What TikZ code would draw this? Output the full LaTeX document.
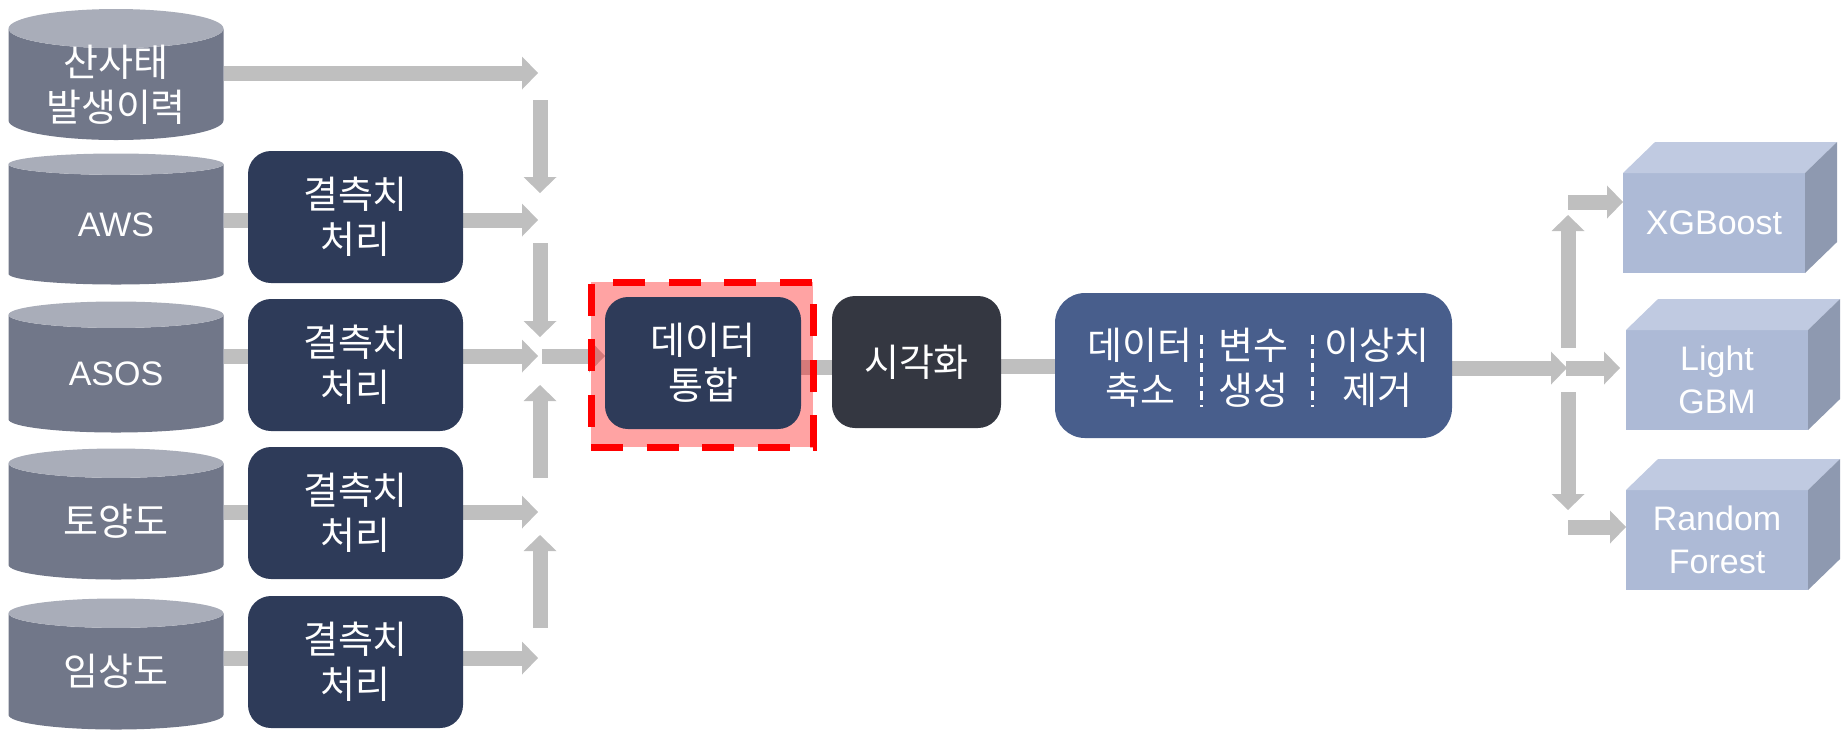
\documentclass[tikz,border=0pt]{standalone}
\usepackage{fontspec}
\setmainfont{Liberation Sans}
\newfontfamily\kr{Noto Sans CJK KR}
\usetikzlibrary{shapes.geometric,arrows.meta}

\definecolor{cylbody}{HTML}{717789}
\definecolor{cyltop}{HTML}{A9ADB9}
\definecolor{navy}{HTML}{2E3B59}
\definecolor{slate}{HTML}{343741}
\definecolor{steel}{HTML}{485E8C}
\definecolor{cubefront}{HTML}{ADBAD6}
\definecolor{cubetop}{HTML}{C0CAE1}
\definecolor{cubeside}{HTML}{8E99B0}
\definecolor{arrowgray}{HTML}{BFBFBF}

\pgfdeclarelayer{bg}
\pgfdeclarelayer{mid}
\pgfsetlayers{bg,mid,main}

\begin{document}
\begin{tikzpicture}[x=0.5pt,y=-0.5pt]
\tikzset{kr/.style={font=\kr\fontsize{19pt}{22.5pt}\selectfont},
  lat/.style={font=\fontsize{17pt}{21.5pt}\selectfont},
  db/.style={cylinder, shape border rotate=90, aspect=0.28, minimum width=107.5pt, minimum height=65.5pt,
    cylinder uses custom fill, cylinder body fill=cylbody, cylinder end fill=cyltop,
    text=white, align=center, inner sep=0pt, outer sep=0pt},
  fixbox/.style={rounded corners=11.5pt, fill=navy, text=white, align=center, kr,
    minimum width=107.5pt, minimum height=66pt, outer sep=0pt},
  cubeface/.style={fill=cubefront, text=white, align=center, lat, minimum width=91pt, minimum height=50pt, outer sep=0pt},
  gbar/.style={draw=arrowgray, line width=7.5pt},
  garrow/.style={draw=arrowgray, line width=7.5pt, -{Triangle[length=8pt, width=16.5pt, line width=0pt]}},
  sep/.style={draw=white, line width=1.5pt, dash pattern=on 4.5pt off 2.5pt}}
\useasboundingbox (0,0) rectangle (1845,730);

% data sources
\node[db, kr, inner ysep=-8pt, anchor=shape center] (landslide) at (116,74.5) {산사태\\발생이력};
\node[db, lat, anchor=shape center] (aws) at (116,219) {AWS};
\node[db, lat, anchor=shape center] (asos) at (116,367) {ASOS};
\node[db, kr, anchor=shape center] (soil) at (116,514) {토양도};
\node[db, kr, anchor=shape center] (forest) at (116,664) {임상도};

% missing value handling
\node[fixbox] (fix2) at (355.5,217) {결측치\\처리};
\node[fixbox] (fix3) at (355.5,365) {결측치\\처리};
\node[fixbox] (fix4) at (355.5,513) {결측치\\처리};
\node[fixbox] (fix5) at (355.5,662) {결측치\\처리};

\coordinate (m1) at (538,73);
\coordinate (m2) at (538,220);
\coordinate (m3) at (538,356);
\coordinate (m4) at (538,512);
\coordinate (m5) at (538,658);
\coordinate (j1) at (540,100);
\coordinate (j2) at (540,193);
\coordinate (j3) at (540,243);
\coordinate (j4) at (540,337);
\coordinate (j5) at (540,478);
\coordinate (j6) at (540,385);
\coordinate (j7) at (540,628);
\coordinate (j8) at (540,535);
\coordinate (jc) at (542,356);

% pipeline
\node[fixbox, minimum width=98pt] (merge) at (703,363) {데이터\\통합};
\node[fixbox, fill=slate, minimum width=84.5pt] (vis) at (916.5,362) {시각화};
\node[fixbox, fill=steel, rounded corners=15pt, minimum width=198.5pt, minimum height=72.5pt] (prep) at (1253.5,365.5) {};
\node[kr, text=white, align=center] (reduce) at (1140,368) {데이터\\축소};
\node[kr, text=white, align=center] (derive) at (1253,368) {변수\\생성};
\node[kr, text=white, align=center] (outlier) at (1377,368) {이상치\\제거};
\draw[sep] (1201,335) -- (1201,407);
\draw[sep] (1312,335) -- (1312,407);

% models
\node[cubeface] (xgb) at (1714,223) {XGBoost};
\node[cubeface] (lgbm) at (1717,380) {Light\\GBM};
\node[cubeface] (rf) at (1717,540) {Random\\Forest};
\foreach \m in {xgb,lgbm,rf} {
  \fill[cubetop] (\m.north west) -- ++(32,-31) -- ++(182,0) -- (\m.north east) -- cycle;
  \fill[cubeside] (\m.north east) -- ++(32,-31) -- ++(0,100) -- (\m.south east) -- cycle;
}

\coordinate (k0) at (1567,368);
\coordinate (k1) at (1568,348);
\coordinate (k2) at (1568,215);
\coordinate (k3) at (1568,202);
\coordinate (k4) at (1566,368);
\coordinate (k5) at (1568,392);
\coordinate (k6) at (1568,510);
\coordinate (k7) at (1568,527);

\begin{pgfonlayer}{mid}
\fill[red, fill opacity=0.36] (591,282) rectangle (813,447);
\draw[red, line width=3.5pt, dash pattern=on 16pt off 11.75pt] (591,447) -- (813,447) -- (813,282) -- (591,282) -- cycle;
\end{pgfonlayer}

\begin{pgfonlayer}{bg}
\draw[garrow] (landslide.east |- m1) -- (m1);
\foreach \s/\f/\m in {aws/fix2/m2, asos/fix3/m3, soil/fix4/m4, forest/fix5/m5} {
  \draw[gbar] (\s.east |- \m) -- (\f.west |- \m);
  \draw[garrow] (\f.east |- \m) -- (\m);
}
\draw[garrow] (j1) -- (j2);
\draw[garrow] (j3) -- (j4);
\draw[garrow] (j5) -- (j6);
\draw[garrow] (j7) -- (j8);
\draw[garrow] (jc) -- (merge.west |- jc);
\draw[gbar] ([yshift=-2pt]merge.east) -- ([yshift=-2pt]merge.east -| vis.west);
\draw[gbar] ([yshift=-2pt]vis.east) -- ([yshift=-2pt]vis.east -| prep.west);
\draw[garrow] (prep.east |- k0) -- (k0);
\draw[garrow] (k1) -- (k2);
\draw[garrow] (k3) -- (xgb.west |- k3);
\draw[garrow] (k4) -- ([xshift=-3pt]lgbm.west |- k4);
\draw[garrow] (k5) -- (k6);
\draw[garrow] (k7) -- (rf.west |- k7);
\end{pgfonlayer}
\end{tikzpicture}
\end{document}
